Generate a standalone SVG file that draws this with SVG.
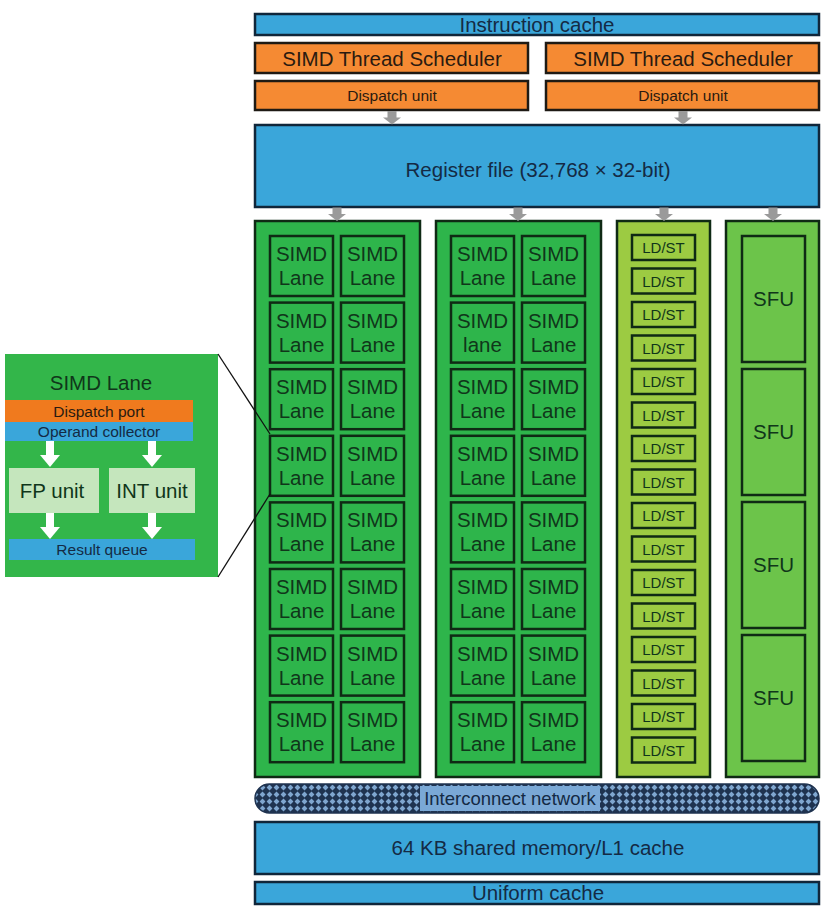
<svg xmlns="http://www.w3.org/2000/svg" width="828" height="909" viewBox="0 0 828 909">
<style>
text{font-family:"Liberation Sans",Arial,sans-serif;fill:#142a44;text-anchor:middle;}
.blue{fill:#3aa6da;stroke:#10263a;stroke-width:2.5;}
.orange{fill:#f58a33;stroke:#1e1a14;stroke-width:2.5;}
.col{fill:#2eb54b;stroke:#0f2a14;stroke-width:2.5;}
.lane{fill:#2eb54b;stroke:#0f2a14;stroke-width:2.5;}
.ldcol{fill:#9ccb42;stroke:#0f2a14;stroke-width:2.5;}
.sfucol{fill:#6cc44a;stroke:#0f2a14;stroke-width:2.5;}
.big{font-size:20.5px;}
.lt{font-size:20.5px;fill:#10361a;}
.sm{font-size:15.5px;fill:#2a1a10;}
.ld{font-size:15px;fill:#10361a;}
.garrow{fill:#9a9a9a;}
.warrow{fill:#ffffff;}
</style>
<defs>
<pattern id="mesh" width="7" height="7" patternUnits="userSpaceOnUse">
<rect width="7" height="7" fill="#1f3350"/>
<polygon points="3.5,0.6 6.4,3.5 3.5,6.4 0.6,3.5" fill="#7fa6cf"/>
</pattern>
<g id="garr"><rect x="-4.5" y="0" width="9" height="7" class="garrow"/><polygon points="-9,6.5 9,6.5 0,13.5" class="garrow"/></g>
<g id="warr"><rect x="-4" y="0" width="8" height="16" class="warrow"/><polygon points="-10,14 10,14 0,26" class="warrow"/></g>
</defs>

<g id="instruction-cache"><rect class="blue" x="255" y="14" width="564" height="21"/><text class="big" x="537" y="31.5">Instruction cache</text></g>
<g id="scheduler-1"><rect class="orange" x="255" y="43" width="273" height="30"/><text class="lt" style="fill:#2a1a10" x="392" y="65.5">SIMD Thread Scheduler</text></g>
<g id="scheduler-2"><rect class="orange" x="546" y="43" width="273" height="30"/><text class="lt" style="fill:#2a1a10" x="683" y="65.5">SIMD Thread Scheduler</text></g>
<g id="dispatch-1"><rect class="orange" x="255" y="81" width="273" height="29"/><text class="sm" x="392" y="101">Dispatch unit</text></g>
<g id="dispatch-2"><rect class="orange" x="546" y="81" width="273" height="29"/><text class="sm" x="683" y="101">Dispatch unit</text></g>
<g id="register-file"><rect class="blue" x="255" y="125" width="564" height="82"/><text class="big" x="538" y="177">Register file (32,768 × 32-bit)</text></g>

<g id="simd-column-1">
<rect class="col" x="255" y="221" width="165" height="556"/>
<g>
<rect class="lane" x="270" y="236" width="63" height="60"/><rect class="lane" x="341" y="236" width="63" height="60"/>
<rect class="lane" x="270" y="302.6" width="63" height="60"/><rect class="lane" x="341" y="302.6" width="63" height="60"/>
<rect class="lane" x="270" y="369.2" width="63" height="60"/><rect class="lane" x="341" y="369.2" width="63" height="60"/>
<rect class="lane" x="270" y="435.8" width="63" height="60"/><rect class="lane" x="341" y="435.8" width="63" height="60"/>
<rect class="lane" x="270" y="502.4" width="63" height="60"/><rect class="lane" x="341" y="502.4" width="63" height="60"/>
<rect class="lane" x="270" y="569" width="63" height="60"/><rect class="lane" x="341" y="569" width="63" height="60"/>
<rect class="lane" x="270" y="635.6" width="63" height="60"/><rect class="lane" x="341" y="635.6" width="63" height="60"/>
<rect class="lane" x="270" y="702.2" width="63" height="60"/><rect class="lane" x="341" y="702.2" width="63" height="60"/>
</g>
<text class="lt" x="301.5" y="261">SIMD</text><text class="lt" x="301.5" y="285">Lane</text><text class="lt" x="372.5" y="261">SIMD</text><text class="lt" x="372.5" y="285">Lane</text>
<text class="lt" x="301.5" y="327.6">SIMD</text><text class="lt" x="301.5" y="351.6">Lane</text><text class="lt" x="372.5" y="327.6">SIMD</text><text class="lt" x="372.5" y="351.6">Lane</text>
<text class="lt" x="301.5" y="394.2">SIMD</text><text class="lt" x="301.5" y="418.2">Lane</text><text class="lt" x="372.5" y="394.2">SIMD</text><text class="lt" x="372.5" y="418.2">Lane</text>
<text class="lt" x="301.5" y="460.8">SIMD</text><text class="lt" x="301.5" y="484.8">Lane</text><text class="lt" x="372.5" y="460.8">SIMD</text><text class="lt" x="372.5" y="484.8">Lane</text>
<text class="lt" x="301.5" y="527.4">SIMD</text><text class="lt" x="301.5" y="551.4">Lane</text><text class="lt" x="372.5" y="527.4">SIMD</text><text class="lt" x="372.5" y="551.4">Lane</text>
<text class="lt" x="301.5" y="594">SIMD</text><text class="lt" x="301.5" y="618">Lane</text><text class="lt" x="372.5" y="594">SIMD</text><text class="lt" x="372.5" y="618">Lane</text>
<text class="lt" x="301.5" y="660.6">SIMD</text><text class="lt" x="301.5" y="684.6">Lane</text><text class="lt" x="372.5" y="660.6">SIMD</text><text class="lt" x="372.5" y="684.6">Lane</text>
<text class="lt" x="301.5" y="727.2">SIMD</text><text class="lt" x="301.5" y="751.2">Lane</text><text class="lt" x="372.5" y="727.2">SIMD</text><text class="lt" x="372.5" y="751.2">Lane</text>
</g>

<g id="simd-column-2">
<rect class="col" x="436" y="221" width="165" height="556"/>
<g>
<rect class="lane" x="451" y="236" width="63" height="60"/><rect class="lane" x="522" y="236" width="63" height="60"/>
<rect class="lane" x="451" y="302.6" width="63" height="60"/><rect class="lane" x="522" y="302.6" width="63" height="60"/>
<rect class="lane" x="451" y="369.2" width="63" height="60"/><rect class="lane" x="522" y="369.2" width="63" height="60"/>
<rect class="lane" x="451" y="435.8" width="63" height="60"/><rect class="lane" x="522" y="435.8" width="63" height="60"/>
<rect class="lane" x="451" y="502.4" width="63" height="60"/><rect class="lane" x="522" y="502.4" width="63" height="60"/>
<rect class="lane" x="451" y="569" width="63" height="60"/><rect class="lane" x="522" y="569" width="63" height="60"/>
<rect class="lane" x="451" y="635.6" width="63" height="60"/><rect class="lane" x="522" y="635.6" width="63" height="60"/>
<rect class="lane" x="451" y="702.2" width="63" height="60"/><rect class="lane" x="522" y="702.2" width="63" height="60"/>
</g>
<text class="lt" x="482.5" y="261">SIMD</text><text class="lt" x="482.5" y="285">Lane</text><text class="lt" x="553.5" y="261">SIMD</text><text class="lt" x="553.5" y="285">Lane</text>
<text class="lt" x="482.5" y="327.6">SIMD</text><text class="lt" x="482.5" y="351.6">lane</text><text class="lt" x="553.5" y="327.6">SIMD</text><text class="lt" x="553.5" y="351.6">Lane</text>
<text class="lt" x="482.5" y="394.2">SIMD</text><text class="lt" x="482.5" y="418.2">Lane</text><text class="lt" x="553.5" y="394.2">SIMD</text><text class="lt" x="553.5" y="418.2">Lane</text>
<text class="lt" x="482.5" y="460.8">SIMD</text><text class="lt" x="482.5" y="484.8">Lane</text><text class="lt" x="553.5" y="460.8">SIMD</text><text class="lt" x="553.5" y="484.8">Lane</text>
<text class="lt" x="482.5" y="527.4">SIMD</text><text class="lt" x="482.5" y="551.4">Lane</text><text class="lt" x="553.5" y="527.4">SIMD</text><text class="lt" x="553.5" y="551.4">Lane</text>
<text class="lt" x="482.5" y="594">SIMD</text><text class="lt" x="482.5" y="618">Lane</text><text class="lt" x="553.5" y="594">SIMD</text><text class="lt" x="553.5" y="618">Lane</text>
<text class="lt" x="482.5" y="660.6">SIMD</text><text class="lt" x="482.5" y="684.6">Lane</text><text class="lt" x="553.5" y="660.6">SIMD</text><text class="lt" x="553.5" y="684.6">Lane</text>
<text class="lt" x="482.5" y="727.2">SIMD</text><text class="lt" x="482.5" y="751.2">Lane</text><text class="lt" x="553.5" y="727.2">SIMD</text><text class="lt" x="553.5" y="751.2">Lane</text>
</g>

<g id="ldst-column">
<rect class="ldcol" x="617" y="221" width="93" height="556"/>
<g fill="#9ccb42" stroke="#0f2a14" stroke-width="2.5">
<rect x="632" y="235" width="63" height="25"/><rect x="632" y="268.5" width="63" height="25"/><rect x="632" y="302" width="63" height="25"/><rect x="632" y="335.5" width="63" height="25"/>
<rect x="632" y="369" width="63" height="25"/><rect x="632" y="402.5" width="63" height="25"/><rect x="632" y="436" width="63" height="25"/><rect x="632" y="469.5" width="63" height="25"/>
<rect x="632" y="503" width="63" height="25"/><rect x="632" y="536.5" width="63" height="25"/><rect x="632" y="570" width="63" height="25"/><rect x="632" y="603.5" width="63" height="25"/>
<rect x="632" y="637" width="63" height="25"/><rect x="632" y="670.5" width="63" height="25"/><rect x="632" y="704" width="63" height="25"/><rect x="632" y="737.5" width="63" height="25"/>
</g>
<text class="ld" x="663.5" y="253">LD/ST</text><text class="ld" x="663.5" y="286.5">LD/ST</text><text class="ld" x="663.5" y="320">LD/ST</text><text class="ld" x="663.5" y="353.5">LD/ST</text>
<text class="ld" x="663.5" y="387">LD/ST</text><text class="ld" x="663.5" y="420.5">LD/ST</text><text class="ld" x="663.5" y="454">LD/ST</text><text class="ld" x="663.5" y="487.5">LD/ST</text>
<text class="ld" x="663.5" y="521">LD/ST</text><text class="ld" x="663.5" y="554.5">LD/ST</text><text class="ld" x="663.5" y="588">LD/ST</text><text class="ld" x="663.5" y="621.5">LD/ST</text>
<text class="ld" x="663.5" y="655">LD/ST</text><text class="ld" x="663.5" y="688.5">LD/ST</text><text class="ld" x="663.5" y="722">LD/ST</text><text class="ld" x="663.5" y="755.5">LD/ST</text>
</g>

<g id="sfu-column">
<rect class="sfucol" x="726" y="221" width="93" height="556"/>
<g fill="#6cc44a" stroke="#0f2a14" stroke-width="2.5">
<rect x="742" y="236" width="63" height="126"/><rect x="742" y="369" width="63" height="126"/><rect x="742" y="502" width="63" height="126"/><rect x="742" y="635" width="63" height="126"/>
</g>
<text class="lt" x="773.5" y="306">SFU</text><text class="lt" x="773.5" y="439">SFU</text><text class="lt" x="773.5" y="572">SFU</text><text class="lt" x="773.5" y="705">SFU</text>
</g>

<g id="interconnect">
<rect x="255" y="784" width="564" height="29" rx="14.5" fill="url(#mesh)" stroke="#1f3350" stroke-width="1.5"/>
<rect x="420" y="786" width="180" height="25" fill="#7aa8d6"/>
<text class="big" style="font-size:18.5px" x="510" y="805">Interconnect network</text>
</g>
<g id="shared-memory"><rect class="blue" x="255" y="822" width="564" height="52"/><text class="big" x="538" y="855">64 KB shared memory/L1 cache</text></g>
<g id="uniform-cache"><rect class="blue" x="255" y="882" width="564" height="22"/><text class="big" x="538" y="900">Uniform cache</text></g>

<g id="simd-lane-detail">
<rect x="5" y="354" width="213" height="223" fill="#33b64a"/>
<text class="lt" x="101" y="390">SIMD Lane</text>
<rect x="5" y="400" width="188" height="22" fill="#f07a1e"/>
<text class="sm" x="99" y="417">Dispatch port</text>
<rect x="5" y="422" width="188" height="19" fill="#3aa6da"/>
<text class="sm" style="fill:#142a44" x="99" y="437">Operand collector</text>
<rect x="9" y="468" width="90" height="45" fill="#c5e6bd"/>
<text class="lt" x="52" y="498">FP unit</text>
<rect x="109" y="468" width="86" height="45" fill="#c5e6bd"/>
<text class="lt" x="152" y="498">INT unit</text>
<rect x="9" y="539" width="186" height="21" fill="#3aa6da"/>
<text class="sm" style="fill:#142a44" x="102" y="555">Result queue</text>
</g>

<g id="connectors">
<use href="#garr" x="392" y="111"/>
<use href="#garr" x="683" y="111"/>
<use href="#garr" x="337" y="207.5"/>
<use href="#garr" x="518" y="207.5"/>
<use href="#garr" x="664" y="207.5"/>
<use href="#garr" x="773" y="207.5"/>
<line x1="218" y1="354" x2="270" y2="434" stroke="#111" stroke-width="1.3"/>
<line x1="218" y1="577" x2="270" y2="494" stroke="#111" stroke-width="1.3"/>
<use href="#warr" x="50" y="441"/>
<use href="#warr" x="152" y="441"/>
<use href="#warr" x="50" y="513"/>
<use href="#warr" x="152" y="513"/>
</g>
</svg>
